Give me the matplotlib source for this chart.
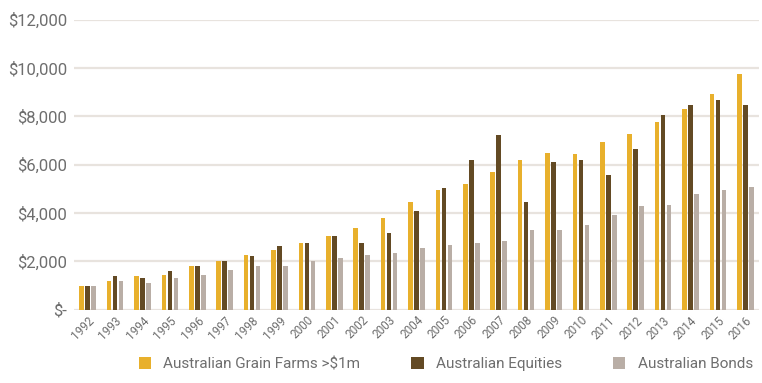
import numpy as np
import matplotlib
matplotlib.use('Agg')
import matplotlib.pyplot as plt
from matplotlib.ticker import FuncFormatter

# === Data (value of $1,000 invested in 1992) ===
years = [str(y) for y in range(1992, 2017)]
grain_farms = [1000, 1170, 1380, 1420, 1800, 2000, 2245, 2465, 2755, 3045,
               3390, 3800, 4435, 4930, 5180, 5675, 6170, 6500, 6420, 6915,
               7260, 7755, 8290, 8910, 9750]
equities = [1000, 1390, 1295, 1585, 1800, 2000, 2220, 2630, 2755, 3045,
            2755, 3180, 4090, 5040, 6210, 7220, 4435, 6090, 6210, 5550,
            6625, 8045, 8470, 8680, 8470]
bonds = [1000, 1170, 1090, 1295, 1430, 1640, 1800, 1800, 2000, 2135,
         2245, 2340, 2550, 2670, 2755, 2850, 3305, 3305, 3510, 3925,
         4300, 4340, 4765, 4930, 5055]
series_names = ['Australian Grain Farms >$1m', 'Australian Equities', 'Australian Bonds']

# === Colours ===
COLOR_GRAIN = '#e8b02c'
COLOR_EQ = '#634a24'
COLOR_BOND = '#b9aea6'
COLOR_GRID = '#e8e3de'
COLOR_TEXT = '#6e6e6e'

plt.rcParams['font.family'] = ['Roboto', 'DejaVu Sans']

fig = plt.figure(figsize=(7.62, 3.83), dpi=100)
ax = fig.add_axes([74 / 762, (383 - 309.7) / 383, (759 - 74) / 762, (309.7 - 19.5) / 383])

x = np.arange(len(years))
w = 0.165
off = 0.22
ax.bar(x - off, grain_farms, w, color=COLOR_GRAIN, label=series_names[0], zorder=3)
ax.bar(x, equities, w, color=COLOR_EQ, label=series_names[1], zorder=3)
ax.bar(x + off, bonds, w, color=COLOR_BOND, label=series_names[2], zorder=3)

ax.set_xlim(-0.5, len(years) - 0.5)
ax.set_ylim(0, 12000)
ax.set_yticks(range(0, 12001, 2000))
ax.yaxis.set_major_formatter(FuncFormatter(lambda v, p: '$-' if v == 0 else f'${v:,.0f}'))
ax.grid(axis='y', color=COLOR_GRID, linewidth=1.6, zorder=0)

for s in ax.spines.values():
    s.set_visible(False)
ax.tick_params(axis='y', length=0, pad=5, labelsize=12, labelcolor=COLOR_TEXT)
ax.tick_params(axis='x', length=0, pad=3, labelsize=8.5, labelcolor=COLOR_TEXT)
ax.set_xticks(x)
ax.set_xticklabels(years, rotation=45, ha='right', rotation_mode='anchor')

fig.legend(loc='lower center', bbox_to_anchor=(0.585, -0.005), ncol=3, frameon=False,
           fontsize=11, labelcolor=COLOR_TEXT, handlelength=0.8, handleheight=0.8,
           handletextpad=0.8, columnspacing=3.35)

fig.savefig('out.png', dpi=100, facecolor='white')
